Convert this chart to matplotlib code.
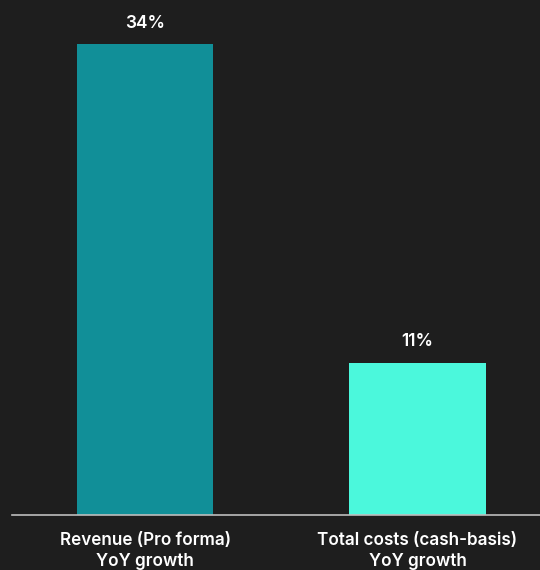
import matplotlib
matplotlib.use("Agg")
import matplotlib.pyplot as plt

categories = ["Revenue (Pro forma)\nYoY growth", "Total costs (cash-basis)\nYoY growth"]
values = [34, 11]
labels = ["34%", "11%"]
colors = ["#118f98", "#4bf8dc"]

bg = "#1e1e1e"
plt.rcParams['font.family'] = ['Inter', 'DejaVu Sans']

fig = plt.figure(figsize=(5.4, 5.7), dpi=100, facecolor=bg)
ax = fig.add_axes([12/540, 55/570, 528/540, 515/570])
ax.set_facecolor(bg)

x = [0, 1]
ax.bar(x, values, width=0.5, color=colors)
for xi, v, lab in zip(x, values, labels):
    ax.annotate(lab, (xi, v), xytext=(0, 9), textcoords="offset points",
                ha="center", va="bottom", color="white", fontsize=12.5, fontweight="semibold")

ax.set_xlim(-0.49, 1.45)
ax.set_ylim(0, 37.2)
ax.set_yticks([])
ax.set_xticks(x)
ax.set_xticklabels(categories, color="white", fontsize=12.3, fontweight="semibold", linespacing=1.3)
ax.tick_params(axis="x", length=0, pad=12)
for s in ["top", "right", "left"]:
    ax.spines[s].set_visible(False)
ax.spines["bottom"].set_color("#bdbdbd")
ax.spines["bottom"].set_linewidth(1.2)

fig.savefig("out.png", dpi=100, facecolor=bg)
